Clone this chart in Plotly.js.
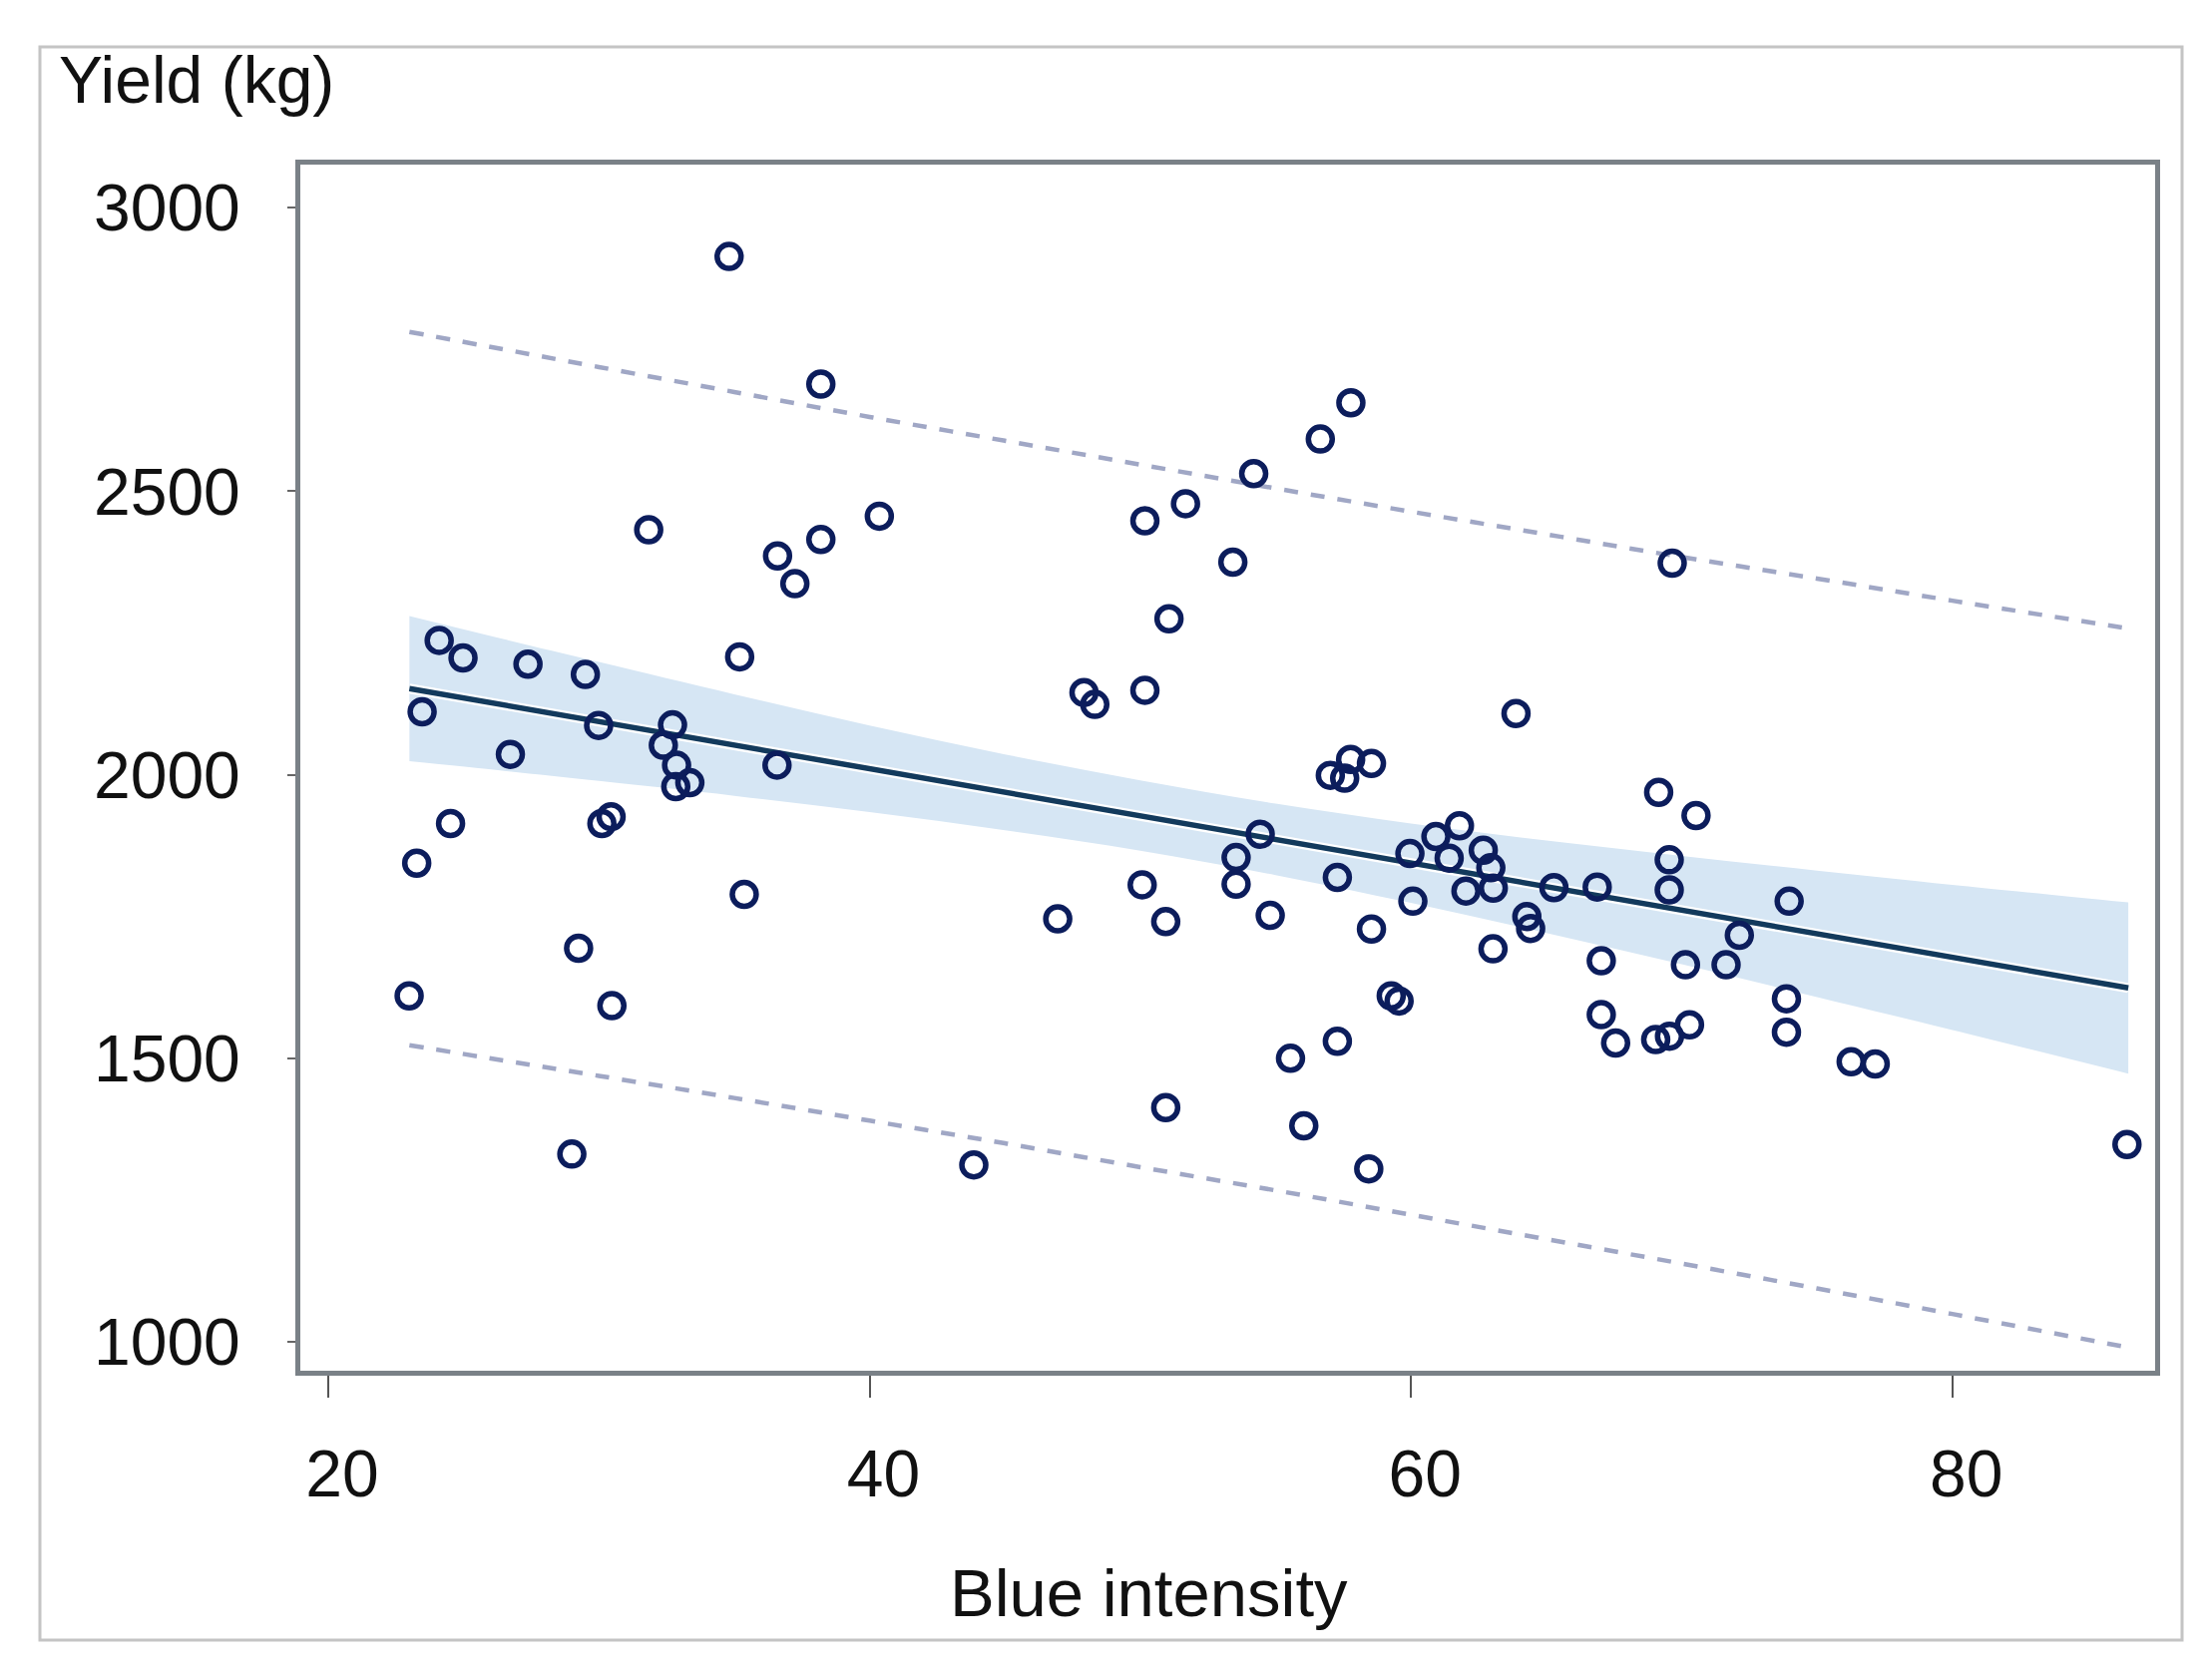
<!DOCTYPE html>
<html>
<head>
<meta charset="utf-8">
<script src="https://cdn.plot.ly/plotly-3.0.1.min.js"></script>
<style>html,body{margin:0;padding:0;background:#fff;}#chart{width:2217px;height:1678px;}</style>
</head>
<body>
<div id="chart"></div>
<script>
// Observed points: Blue intensity vs Yield (kg)
const blueIntensity = [
  34.81, 38.20, 40.36, 31.84, 36.60, 38.20, 37.24, 35.20, 24.10, 24.98,
  27.38, 29.50, 23.47, 29.99, 32.72, 32.38, 26.73, 32.87, 36.58, 32.84,
  33.36, 24.52, 30.11, 30.45, 23.27, 35.37, 29.25, 22.99, 30.48, 29.00,
  43.85,
  57.78, 56.65, 54.19, 51.67, 50.17, 53.42, 51.06, 47.92, 48.32, 50.17,
  63.88, 57.02, 57.77, 57.55, 58.54, 54.43, 53.54, 53.54, 50.07, 57.28,
  54.80, 46.95, 50.94, 58.54, 59.96, 60.07, 63.03, 59.27, 59.56, 57.28,
  55.55, 50.94, 56.04, 58.44, 61.79, 60.92, 61.41, 62.67, 62.95, 63.04,
  62.03, 65.28, 64.28, 64.42,
  69.65, 69.15, 70.53, 69.54, 69.54, 66.88, 72.13, 67.03, 70.14, 71.64,
  67.03, 67.56, 69.04, 69.55, 70.29, 73.97, 73.87, 73.87, 76.26, 77.15,
  86.45
];
const yieldKg = [
  2914, 2689, 2456, 2432, 2386, 2415, 2337, 2208, 2237, 2206,
  2195, 2177, 2111, 2087, 2088, 2052, 2036, 2017, 2017, 1979,
  1986, 1914, 1914, 1926, 1844, 1789, 1694, 1610, 1593, 1331,
  1312,
  2656, 2592, 2531, 2478, 2448, 2375, 2275, 2145, 2124, 2149,
  2108, 1999, 2027, 1994, 2020, 1895, 1854, 1807, 1806, 1819,
  1752, 1746, 1741, 1728, 1861, 1777, 1693, 1610, 1601, 1530,
  1500, 1413, 1381, 1305, 1910, 1891, 1853, 1867, 1836, 1800,
  1795, 1801, 1750, 1729,
  2373, 1969, 1928, 1850, 1797, 1802, 1717, 1672, 1665, 1665,
  1577, 1527, 1533, 1539, 1559, 1777, 1605, 1546, 1494, 1490,
  1348
];

// Fitted line, confidence band and prediction limits
const fitX    = [23, 26.5, 30, 35, 40, 45, 50, 55, 60, 65, 70, 75, 80, 86.5];
const fitY    = [2152, 2123, 2094, 2052, 2011, 1969, 1928, 1886, 1844, 1803, 1761, 1720, 1678, 1624];
const ciUpper = [2280, 2239, 2199, 2142, 2087, 2036, 1990, 1949, 1914, 1884, 1857, 1831, 1806, 1775];
const ciLower = [2024, 2007, 1989, 1963, 1934, 1902, 1866, 1823, 1774, 1721, 1666, 1608, 1550, 1473];
const piUpper = [2781, 2750, 2719, 2675, 2631, 2589, 2547, 2505, 2464, 2424, 2384, 2346, 2307, 2258];
const piLower = [1523, 1496, 1469, 1430, 1390, 1350, 1308, 1267, 1224, 1181, 1138, 1094, 1049, 990];

const xTicks = [20, 40, 60, 80];
const yTicks = [1000, 1500, 2000, 2500, 3000];
const xTitle = 'Blue intensity';
const yTitle = 'Yield (kg)';

const FONT = 'Liberation Sans, Arial, Helvetica, sans-serif';
const navy = '#0c1d5c';

const traces = [
  {x: fitX, y: ciLower, mode: 'lines', line: {width: 0, color: 'rgba(0,0,0,0)', shape: 'spline'}, hoverinfo: 'skip', showlegend: false},
  {x: fitX, y: ciUpper, mode: 'lines', fill: 'tonexty', fillcolor: '#d6e6f4', line: {width: 0, color: 'rgba(0,0,0,0)', shape: 'spline'}, hoverinfo: 'skip', showlegend: false},
  {x: fitX, y: piUpper, mode: 'lines', line: {color: '#a0a7c5', width: 4.5, dash: '14px,13px', shape: 'spline'}, showlegend: false},
  {x: fitX, y: piLower, mode: 'lines', line: {color: '#a0a7c5', width: 4.5, dash: '14px,13px', shape: 'spline'}, showlegend: false},
  {x: fitX, y: fitY, mode: 'lines', line: {color: '#ffffff', width: 10}, hoverinfo: 'skip', showlegend: false},
  {x: fitX, y: fitY, mode: 'lines', line: {color: '#133a5c', width: 5.5}, showlegend: false},
  {x: blueIntensity, y: yieldKg, mode: 'markers', showlegend: false,
   marker: {symbol: 'circle-open', size: 24, color: navy, line: {width: 5.5, color: navy}}}
];

const W = 2217, H = 1678;
const L = 301, R = 57, T = 165, B = 304;
const pw = W - L - R, ph = H - T - B;
const px = v => (v - L) / pw;
const py = v => (H - B - v) / ph;

const layout = {
  width: W, height: H,
  margin: {l: L, r: R, t: T, b: B, pad: 0},
  paper_bgcolor: '#ffffff', plot_bgcolor: '#ffffff',
  font: {family: FONT, color: '#111111', size: 66},
  xaxis: {
    range: [18.97, 87.49], tickvals: xTicks, ticktext: xTicks.map(String),
    showgrid: false, zeroline: false, showline: true, mirror: true,
    linecolor: '#7a8187', linewidth: 5,
    ticks: 'outside', ticklen: 22, tickwidth: 2, tickcolor: '#555555',
    ticklabelstandoff: 20, ticklabelshift: 14,
    tickfont: {family: FONT, size: 66, color: '#111111'},
    title: {text: ''}
  },
  yaxis: {
    range: [949, 3076], tickvals: yTicks, ticktext: yTicks.map(String),
    showgrid: false, zeroline: false, showline: true, mirror: true,
    linecolor: '#7a8187', linewidth: 5,
    ticks: 'outside', ticklen: 8, tickwidth: 2, tickcolor: '#666666',
    ticklabelstandoff: 34,
    tickfont: {family: FONT, size: 66, color: '#111111'},
    title: {text: ''}
  },
  shapes: [
    {type: 'rect', xref: 'paper', yref: 'paper', layer: 'below',
     x0: px(40), x1: px(2187), y0: py(1644), y1: py(47),
     line: {color: '#c4c4c4', width: 3}, fillcolor: 'rgba(0,0,0,0)'}
  ],
  annotations: [
    {text: yTitle, xref: 'paper', yref: 'paper', x: px(57), y: py(80),
     xanchor: 'left', yanchor: 'middle', showarrow: false,
     font: {family: FONT, size: 66, color: '#111111'}},
    {text: xTitle, xref: 'paper', yref: 'paper', x: px(1151), y: py(1596),
     xanchor: 'center', yanchor: 'middle', showarrow: false,
     font: {family: FONT, size: 67, color: '#111111'}}
  ]
};

Plotly.newPlot('chart', traces, layout, {staticPlot: true, displayModeBar: false});
</script>
</body>
</html>
